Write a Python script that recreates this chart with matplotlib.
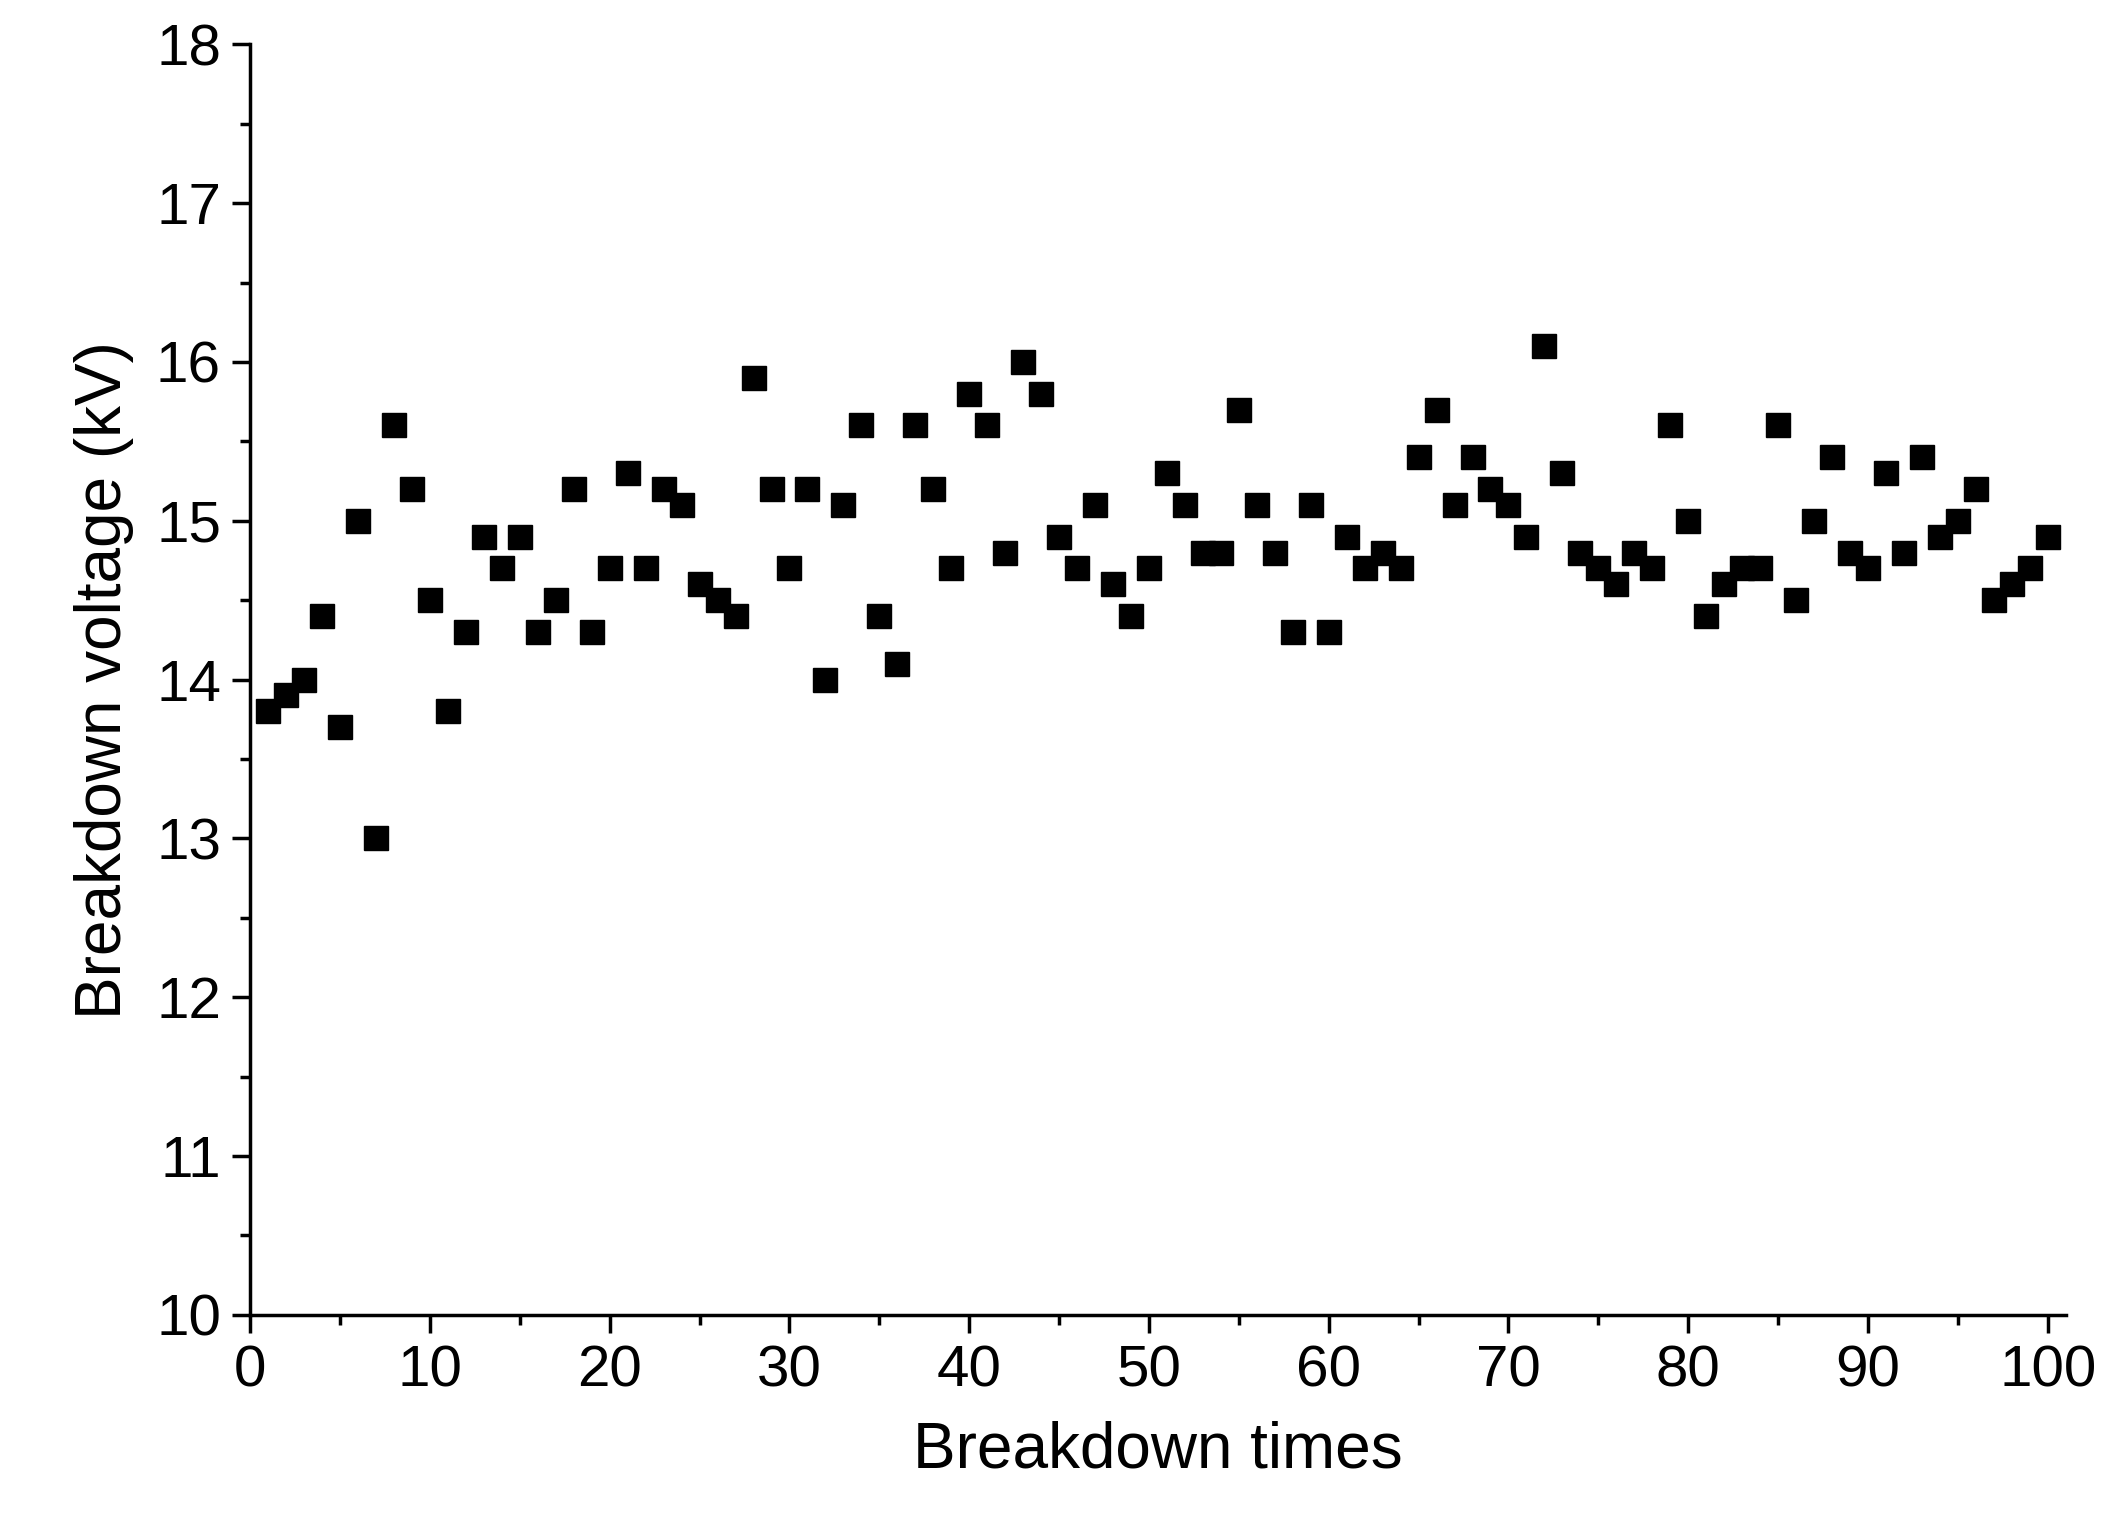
import numpy as np
import matplotlib
matplotlib.use("Agg")
import matplotlib.pyplot as plt
from matplotlib.ticker import MultipleLocator

plt.rcParams['font.family'] = ['Liberation Sans', 'DejaVu Sans']

times = np.arange(1, 101)
voltage = [13.8, 13.9, 14.0, 14.4, 13.7, 15.0, 13.0, 15.6, 15.2, 14.5,
           13.8, 14.3, 14.9, 14.7, 14.9, 14.3, 14.5, 15.2, 14.3, 14.7,
           15.3, 14.7, 15.2, 15.1, 14.6, 14.5, 14.4, 15.9, 15.2, 14.7,
           15.2, 14.0, 15.1, 15.6, 14.4, 14.1, 15.6, 15.2, 14.7, 15.8,
           15.6, 14.8, 16.0, 15.8, 14.9, 14.7, 15.1, 14.6, 14.4, 14.7,
           15.3, 15.1, 14.8, 14.8, 15.7, 15.1, 14.8, 14.3, 15.1, 14.3,
           14.9, 14.7, 14.8, 14.7, 15.4, 15.7, 15.1, 15.4, 15.2, 15.1,
           14.9, 16.1, 15.3, 14.8, 14.7, 14.6, 14.8, 14.7, 15.6, 15.0,
           14.4, 14.6, 14.7, 14.7, 15.6, 14.5, 15.0, 15.4, 14.8, 14.7,
           15.3, 14.8, 15.4, 14.9, 15.0, 15.2, 14.5, 14.6, 14.7, 14.9]

fig = plt.figure(figsize=(21.1, 15.28), dpi=100)
ax = fig.add_axes([0.1186, 0.1395, 0.8604, 0.8315])
ax.plot(times, voltage, 's', color='black', markersize=17)

ax.set_xlim(0, 101)
ax.set_ylim(10, 18)
ax.xaxis.set_major_locator(MultipleLocator(10))
ax.xaxis.set_minor_locator(MultipleLocator(5))
ax.yaxis.set_major_locator(MultipleLocator(1))
ax.yaxis.set_minor_locator(MultipleLocator(0.5))
for s in ['top', 'right']:
    ax.spines[s].set_visible(False)
for s in ['left', 'bottom']:
    ax.spines[s].set_linewidth(2.5)
ax.tick_params(which='major', direction='out', length=13, width=2.5, labelsize=42, pad=8)
ax.tick_params(which='minor', direction='out', length=7, width=2.5)
ax.set_xlabel('Breakdown times', fontsize=46, labelpad=16)
ax.set_ylabel('Breakdown voltage (kV)', fontsize=46, labelpad=16)

fig.savefig('out.png', dpi=100)
